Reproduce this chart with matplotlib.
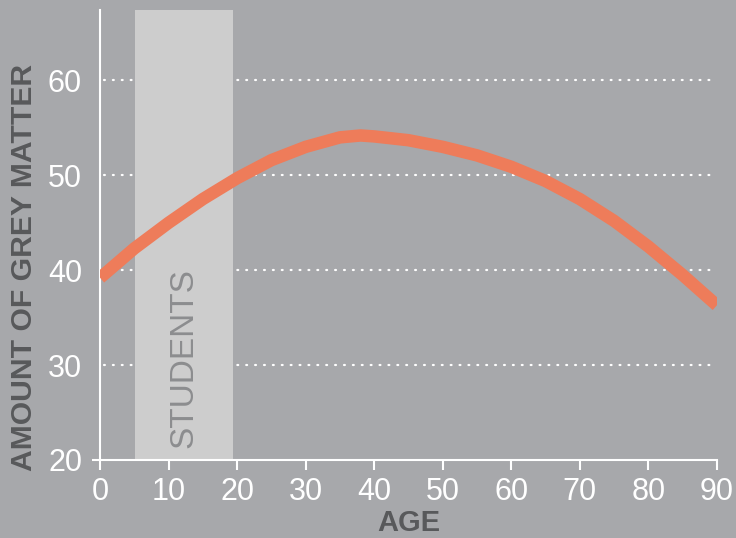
import numpy as np
import matplotlib.pyplot as plt

age = [0, 5, 10, 15, 20, 25, 30, 35, 38, 40, 45, 50, 55, 60, 65, 70, 75, 80, 85, 90]
grey_matter = [39.2, 42.3, 45.0, 47.5, 49.7, 51.6, 53.0, 54.0, 54.2, 54.1, 53.7, 53.0, 52.1, 50.9, 49.4, 47.5, 45.2, 42.5, 39.5, 36.3]
students = (5.1, 19.4)
xticks = [0, 10, 20, 30, 40, 50, 60, 70, 80, 90]
yticks = [20, 30, 40, 50, 60]

plt.rcParams['font.family'] = ['Liberation Sans', 'DejaVu Sans']

bg = '#a7a8ab'
fig = plt.figure(figsize=(7.36, 5.38), dpi=100, facecolor=bg)
ax = fig.add_axes([0.136, 0.145, 0.838, 0.836], facecolor=bg)

for y in yticks[1:]:
    ax.plot([0.5, 90], [y, y], color='white', lw=1.6, linestyle=(0, (0.4, 3.6)),
            dash_capstyle='round', zorder=1)

ax.axvspan(students[0], students[1], color='#cdcdcd', lw=0, zorder=2)
ax.text(sum(students) / 2, 21.3, 'STUDENTS', rotation=90, ha='center', va='bottom',
        fontsize=24, color='#8c8d8f', zorder=3)

ax.plot(age, grey_matter, color='#ee7c5a', lw=9, solid_capstyle='butt',
        solid_joinstyle='round', zorder=4)

ax.set_xlim(0, 90)
ax.set_ylim(20, 67.4)
ax.set_xticks(xticks)
ax.set_yticks([20])
ax.set_xticklabels([str(t) for t in xticks])
ax.set_yticklabels(['20'])
ax.set_yticks(yticks[1:], minor=True)
ax.set_yticklabels([str(t) for t in yticks[1:]], minor=True)
ax.tick_params(axis='y', which='minor', length=0, pad=13)
ax.tick_params(axis='y', which='major', length=6, width=1.5, color='white', pad=7)
ax.tick_params(axis='x', length=7, width=1.5, color='white', pad=5)
for lab in ax.get_xticklabels() + ax.get_yticklabels() + ax.get_yticklabels(minor=True):
    lab.set_fontsize(22)
    lab.set_color('white')

for s in ['top', 'right']:
    ax.spines[s].set_visible(False)
for s in ['left', 'bottom']:
    ax.spines[s].set_color('white')
    ax.spines[s].set_linewidth(1.5)

ax.set_xlabel('AGE', fontsize=21, fontweight='bold', color='#58595b', labelpad=2)
ax.set_ylabel('AMOUNT OF GREY MATTER', fontsize=21.7, fontweight='bold', color='#58595b')
ax.yaxis.set_label_coords(-0.1, 0.428)

fig.savefig('out.png', dpi=100, facecolor=bg)
